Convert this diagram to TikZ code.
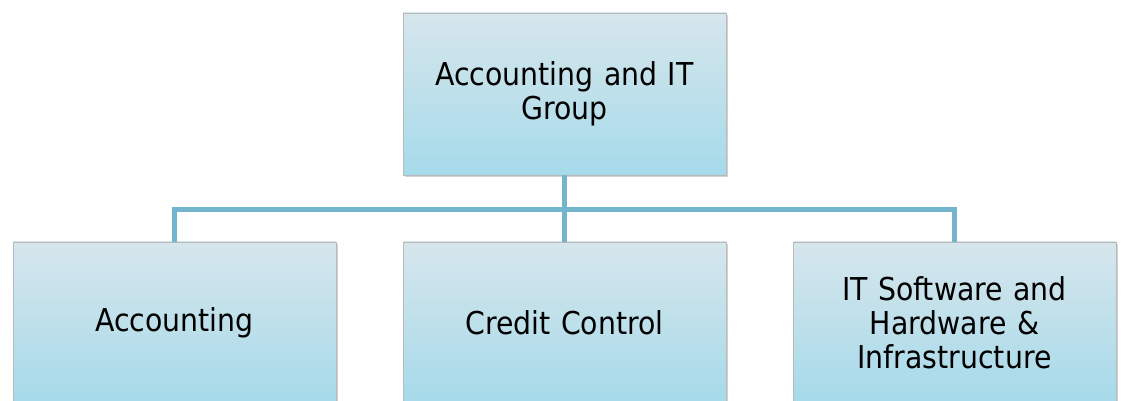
\documentclass[tikz,border=0pt]{standalone}
\usepackage{fontspec}
\setmainfont{DejaVu Sans Condensed}
\usetikzlibrary{shadows}

\definecolor{boxtop}{RGB}{214,230,236}
\definecolor{boxbottom}{RGB}{166,218,234}
\definecolor{linkblue}{RGB}{114,181,204}

\tikzset{
  unit/.style={rectangle, draw=gray!55, line width=0.8pt,
    top color=boxtop, bottom color=boxbottom,
    minimum width=323pt, minimum height=162pt, text width=300pt,
    align=center, font=\fontsize{31.5}{34}\selectfont, inner sep=0pt,
    drop shadow={shadow xshift=1.5pt, shadow yshift=-2pt, opacity=0.35}},
  link/.style={draw=linkblue, line width=5pt}
}

\begin{document}
\begin{tikzpicture}[x=1pt, y=1pt]
  \useasboundingbox (0,0) rectangle (1121,401);
  \fill[white] (0,0) rectangle (1121,401);

  \node[unit] (group)  at (564.5,307) {Accounting and IT\\Group};
  \node[unit] (acc)    at (174.5,78)  {Accounting};
  \node[unit] (credit) at (564.5,78)  {Credit Control};
  \node[unit] (itsw)   at (954.5,78)  {IT Software and\\Hardware \&\\Infrastructure};

  % connectors
  \draw[link] (group.south) -- ++(0,-34) -| (acc.north);
  \draw[link] (group.south) -- (credit.north);
  \draw[link] (group.south) -- ++(0,-34) -| (itsw.north);

\end{tikzpicture}
\end{document}
